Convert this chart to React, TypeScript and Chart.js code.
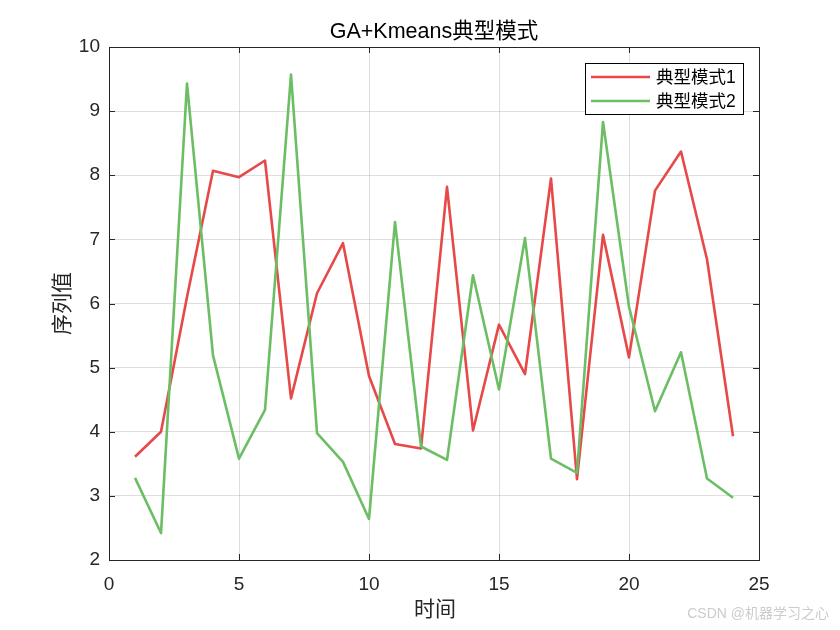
import React, { useEffect, useRef } from "react";
import { Chart, registerables } from "chart.js";

Chart.register(...registerables);

const timeSteps = [1, 2, 3, 4, 5, 6, 7, 8, 9, 10, 11, 12, 13, 14, 15, 16, 17, 18, 19, 20, 21, 22, 23, 24];
const pattern1 = [3.61, 4.0, 6.1, 8.07, 7.97, 8.23, 4.52, 6.16, 6.94, 4.87, 3.81, 3.74, 7.82, 4.02, 5.67, 4.9, 7.95, 3.26, 7.07, 5.16, 7.76, 8.37, 6.69, 3.93];
const pattern2 = [3.28, 2.42, 9.43, 5.19, 3.58, 4.34, 9.57, 3.98, 3.53, 2.64, 7.27, 3.77, 3.56, 6.44, 4.66, 7.02, 3.58, 3.36, 8.83, 5.95, 4.32, 5.24, 3.27, 2.97];
const seriesNames = ["典型模式1", "典型模式2"];
const titleText = "GA+Kmeans典型模式";
const xLabel = "时间";
const yLabel = "序列值";
const watermark = "CSDN @机器学习之心";

const RED = "rgb(231,72,72)";
const GREEN = "rgb(108,190,100)";
const FONT = "'Liberation Sans', Arial, 'Noto Sans CJK SC', sans-serif";
const AXIS = "#262626";

const decorPlugin = {
  id: "decor",
  afterDraw(chart: any) {
    const ctx = chart.ctx;
    const a = chart.chartArea;
    const xs = chart.scales.x;
    const ys = chart.scales.y;
    ctx.save();
    // box
    ctx.strokeStyle = AXIS;
    ctx.lineWidth = 1;
    ctx.strokeRect(Math.round(a.left) + 0.5, Math.round(a.top) + 0.5, Math.round(a.right - a.left), Math.round(a.bottom - a.top));
    // inward ticks
    const tl = 6;
    ctx.beginPath();
    xs.ticks.forEach((t: any) => {
      const px = Math.round(xs.getPixelForValue(t.value)) + 0.5;
      ctx.moveTo(px, a.bottom);
      ctx.lineTo(px, a.bottom - tl);
      ctx.moveTo(px, a.top);
      ctx.lineTo(px, a.top + tl);
    });
    ys.ticks.forEach((t: any) => {
      const py = Math.round(ys.getPixelForValue(t.value)) + 0.5;
      ctx.moveTo(a.left, py);
      ctx.lineTo(a.left + tl, py);
      ctx.moveTo(a.right, py);
      ctx.lineTo(a.right - tl, py);
    });
    ctx.stroke();

    // title
    const cx = (a.left + a.right) / 2;
    ctx.fillStyle = "#000";
    ctx.textAlign = "center";
    ctx.textBaseline = "middle";
    ctx.font = `21.5px ${FONT}`;
    ctx.fillText(titleText, cx, 32);
    // x label
    ctx.fillStyle = AXIS;
    ctx.font = `21px ${FONT}`;
    ctx.fillText(xLabel, cx + 1, 610);
    // y label
    ctx.save();
    ctx.translate(63, (a.top + a.bottom) / 2);
    ctx.rotate(-Math.PI / 2);
    ctx.fillText(yLabel, 0, 0);
    ctx.restore();

    // legend
    const lx = 585.5, ly = 63.5, lw = 158, lh = 51;
    ctx.fillStyle = "#fff";
    ctx.fillRect(lx, ly, lw, lh);
    ctx.strokeStyle = "#000";
    ctx.lineWidth = 1;
    ctx.strokeRect(lx, ly, lw, lh);
    const rows = [
      { c: RED, y: 77 },
      { c: GREEN, y: 101 },
    ];
    rows.forEach((r, i) => {
      ctx.strokeStyle = r.c;
      ctx.lineWidth = 2.5;
      ctx.beginPath();
      ctx.moveTo(591, r.y);
      ctx.lineTo(650, r.y);
      ctx.stroke();
      ctx.fillStyle = "#000";
      ctx.textAlign = "left";
      ctx.textBaseline = "middle";
      ctx.font = `17.5px ${FONT}`;
      ctx.fillText(seriesNames[i], 656, r.y + 1);
    });

    // watermark
    ctx.fillStyle = "#cccccc";
    ctx.font = `14px ${FONT}`;
    ctx.textAlign = "right";
    ctx.fillText(watermark, 829, 614);
    ctx.restore();
  },
};

export default function App() {
  const ref = useRef<HTMLCanvasElement>(null);
  useEffect(() => {
    if (!ref.current) return;
    const chart = new Chart(ref.current, {
      type: "line",
      data: {
        datasets: [
          {
            label: seriesNames[0],
            data: timeSteps.map((t, i) => ({ x: t, y: pattern1[i] })),
            borderColor: RED,
            backgroundColor: RED,
            borderWidth: 2.6,
            borderJoinStyle: "round",
            pointRadius: 0,
            tension: 0,
            order: 2,
          },
          {
            label: seriesNames[1],
            data: timeSteps.map((t, i) => ({ x: t, y: pattern2[i] })),
            borderColor: GREEN,
            backgroundColor: GREEN,
            borderWidth: 2.6,
            borderJoinStyle: "round",
            pointRadius: 0,
            tension: 0,
            order: 1,
          },
        ],
      },
      options: {
        animation: false,
        responsive: false,
        devicePixelRatio: 1,
        layout: { padding: { left: 0, right: 81, top: 47, bottom: 0 } },
        plugins: {
          legend: { display: false },
          title: { display: false },
          tooltip: { enabled: false },
        },
        scales: {
          x: {
            type: "linear",
            min: 0,
            max: 25,
            ticks: { stepSize: 5, color: AXIS, font: { size: 19, family: FONT }, padding: 13, maxRotation: 0 },
            grid: { color: "rgba(0,0,0,0.13)", drawTicks: false, lineWidth: 1 },
            border: { display: false },
            afterFit: (s: any) => {
              s.height = 70;
            },
          },
          y: {
            type: "linear",
            min: 2,
            max: 10,
            ticks: { stepSize: 1, color: AXIS, font: { size: 19, family: FONT }, padding: 9 },
            grid: { color: "rgba(0,0,0,0.13)", drawTicks: false, lineWidth: 1 },
            border: { display: false },
            afterFit: (s: any) => {
              s.width = 109;
            },
          },
        },
      },
      plugins: [decorPlugin],
    });
    return () => chart.destroy();
  }, []);
  return (
    <div style={{ position: "fixed", left: 0, top: 0, width: 840, height: 630, background: "#fff" }}>
      <canvas ref={ref} width={840} height={630} style={{ width: 840, height: 630 }} />
    </div>
  );
}
